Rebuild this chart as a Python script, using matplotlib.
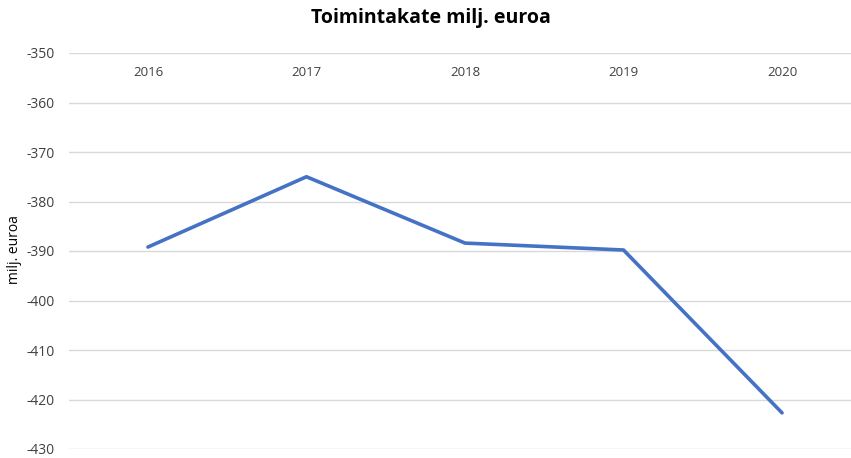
import matplotlib.pyplot as plt

years = ["2016", "2017", "2018", "2019", "2020"]
toimintakate = [-389.2, -375.0, -388.4, -389.8, -422.7]
y_ticks = [-350, -360, -370, -380, -390, -400, -410, -420, -430]

plt.rcParams['font.family'] = ['Open Sans', 'DejaVu Sans']

W, H = 851, 458
fig = plt.figure(figsize=(W / 100, H / 100), dpi=100)
ax = fig.add_axes([69 / W, 9 / H, (851 - 69) / W, (449 - 53) / H])

x = list(range(len(years)))
ax.plot(x, toimintakate, color='#4472C4', linewidth=2.6, solid_capstyle='round')

ax.set_xlim(-0.498, 4.435)
ax.set_ylim(-430, -350)
ax.set_yticks(y_ticks)
ax.set_yticklabels([str(v) for v in y_ticks], fontsize=10, color='#404040')
ax.set_xticks(x)
ax.set_xticklabels(years, fontsize=9.5, color='#404040')
ax.tick_params(axis='x', top=True, labeltop=True, bottom=False, labelbottom=False,
               length=0, pad=-19)
ax.tick_params(axis='y', length=0, pad=10)
ax.grid(axis='y', color='#D9D9D9', linewidth=1)
ax.set_axisbelow(True)
for s in ax.spines.values():
    s.set_visible(False)

fig.text(14 / W, 1 - 250 / H, "milj. euroa", rotation=90, ha='center', va='center',
         fontsize=10, color='black')
fig.text(431 / W, 1 - 18 / H, "Toimintakate milj. euroa", ha='center', va='center',
         fontsize=14, fontweight='bold')

fig.savefig("out.png", dpi=100)
